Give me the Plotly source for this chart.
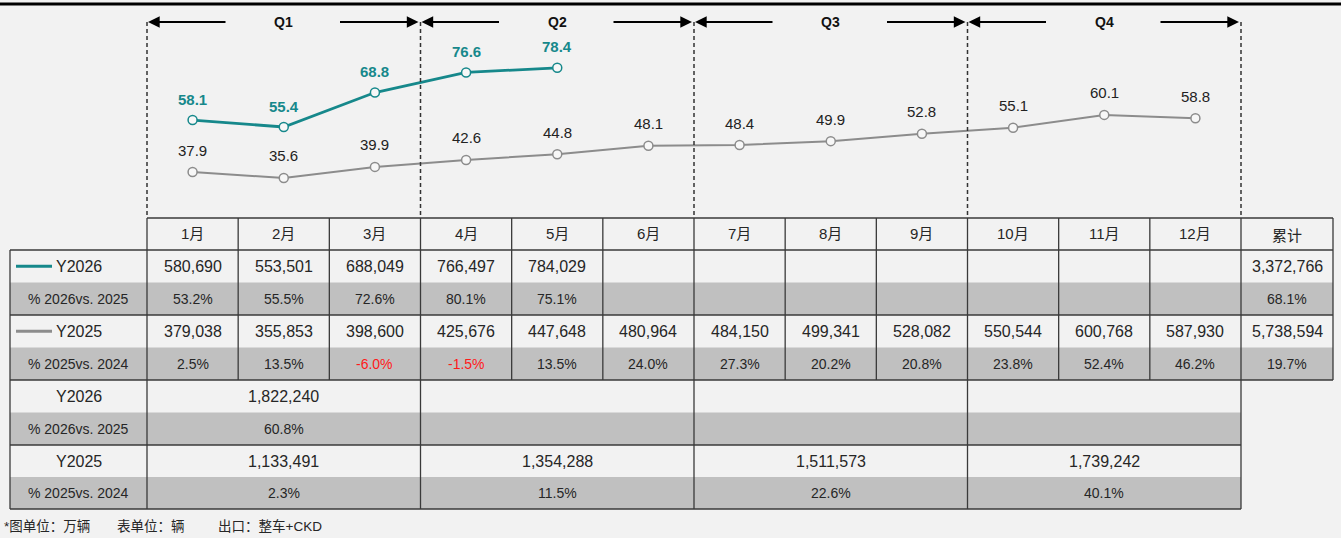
import plotly.graph_objects as go

# ---------------- data ----------------
months = ["1月", "2月", "3月", "4月", "5月", "6月", "7月", "8月", "9月", "10月", "11月", "12月"]
total_label = "累计"
line_2026 = [58.1, 55.4, 68.8, 76.6, 78.4]
line_2025 = [37.9, 35.6, 39.9, 42.6, 44.8, 48.1, 48.4, 49.9, 52.8, 55.1, 60.1, 58.8]

sales_2026 = [580690, 553501, 688049, 766497, 784029, None, None, None, None, None, None, None]
sales_2026_total = 3372766
yoy_2026 = [53.2, 55.5, 72.6, 80.1, 75.1, None, None, None, None, None, None, None]
yoy_2026_total = 68.1
sales_2025 = [379038, 355853, 398600, 425676, 447648, 480964, 484150, 499341, 528082, 550544, 600768, 587930]
sales_2025_total = 5738594
yoy_2025 = [2.5, 13.5, -6.0, -1.5, 13.5, 24.0, 27.3, 20.2, 20.8, 23.8, 52.4, 46.2]
yoy_2025_total = 19.7

quarters = ["Q1", "Q2", "Q3", "Q4"]
q_sales_2026 = [1822240, None, None, None]
q_yoy_2026 = [60.8, None, None, None]
q_sales_2025 = [1133491, 1354288, 1511573, 1739242]
q_yoy_2025 = [2.3, 11.5, 22.6, 40.1]

row_labels_upper = ["Y2026", "% 2026vs. 2025", "Y2025", "% 2025vs. 2024"]
row_labels_lower = ["Y2026", "% 2026vs. 2025", "Y2025", "% 2025vs. 2024"]
footnotes = ["*图单位：万辆", "表单位：辆", "出口：整车+CKD"]

# ---------------- layout constants ----------------
W, H = 1341, 538
X_LEFT, X0, X1, X_RIGHT = 10, 147, 1241, 1333
CW = (X1 - X0) / 12
HDR_TOP, HDR_BOT = 218, 250
ROWS_UP = [250, 282.5, 315, 347.5, 380]
ROWS_LO = [380, 412.5, 445, 477, 509]
PLOT_TOP = 15

TEAL = "#16888b"
GRAY = "#8c8c8c"
BORDER = "#3a3a3a"
SHADE = "#c0c0c0"
BG = "#f2f2f2"
TXT = "#262626"
FONT = "Liberation Sans, Arial, Noto Sans CJK SC, sans-serif"
PCT_SIZE = 14


def px(x):
    return x / W


def py(y):
    return 1 - y / H


def colx(i):  # left edge of month column i (0-based)
    return X0 + i * CW


shapes = []
annotations = []


def hline(x0, x1, y, color=BORDER, width=1.3):
    shapes.append(dict(type="line", xref="paper", yref="paper", x0=px(x0), x1=px(x1), y0=py(y), y1=py(y),
                       line=dict(color=color, width=width)))


def vline(x, y0, y1, color=BORDER, width=1.3, dash=None):
    ln = dict(color=color, width=width)
    if dash:
        ln["dash"] = dash
    shapes.append(dict(type="line", xref="paper", yref="paper", x0=px(x), x1=px(x), y0=py(y0), y1=py(y1), line=ln))


def rect(x0, x1, y0, y1, fill):
    shapes.append(dict(type="rect", xref="paper", yref="paper", x0=px(x0), x1=px(x1), y0=py(y0), y1=py(y1),
                       fillcolor=fill, line=dict(width=0), layer="below"))


def text(x, y, s, size=16, color=TXT, bold=False, xanchor="center"):
    if bold:
        s = "<b>" + s + "</b>"
    annotations.append(dict(xref="paper", yref="paper", x=px(x), y=py(y), text=s, showarrow=False,
                            xanchor=xanchor, yanchor="middle", font=dict(family=FONT, size=size, color=color)))


# top black rule
hline(0, W, 4, color="#000000", width=3)

# shaded rows
rect(X_LEFT, X_RIGHT, ROWS_UP[1], ROWS_UP[2], SHADE)
rect(X_LEFT, X_RIGHT, ROWS_UP[3], ROWS_UP[4], SHADE)
rect(X_LEFT, X1, ROWS_LO[1], ROWS_LO[2], SHADE)
rect(X_LEFT, X1, ROWS_LO[3], ROWS_LO[4], SHADE)

# horizontal borders
hline(X0, X_RIGHT, HDR_TOP)
hline(X_LEFT, X_RIGHT, HDR_BOT)
hline(X_LEFT, X_RIGHT, ROWS_UP[2])
hline(X_LEFT, X_RIGHT, ROWS_UP[4])
hline(X_LEFT, X1, ROWS_LO[2])
hline(X_LEFT, X1, ROWS_LO[4])

# vertical borders
vline(X_LEFT, HDR_BOT, ROWS_LO[4])
vline(X_RIGHT, HDR_TOP, ROWS_UP[4])
for i in range(13):
    x = colx(i)
    if i % 3 == 0:
        vline(x, HDR_TOP, ROWS_LO[4])
        vline(x, 22, HDR_TOP, color="#333333", width=1.5, dash="4px,3px")
    else:
        vline(x, HDR_TOP, ROWS_UP[4])

# quarter arrows + labels
for q, name in enumerate(quarters):
    a, b = colx(3 * q), colx(3 * q + 3)
    ya = py(22)
    annotations.append(dict(xref="paper", yref="paper", x=px(a + 1), y=ya, ax=79, ay=0, axref="pixel", ayref="pixel",
                            text="", showarrow=True, arrowhead=2, arrowsize=1.3, arrowwidth=1.8, arrowcolor="#000000"))
    annotations.append(dict(xref="paper", yref="paper", x=px(b - 2), y=ya, ax=-80, ay=0, axref="pixel", ayref="pixel",
                            text="", showarrow=True, arrowhead=2, arrowsize=1.3, arrowwidth=1.8, arrowcolor="#000000"))
    text((a + b) / 2, 22, name, size=14, color="#111111", bold=True)

# header row
for i, m in enumerate(months):
    text(colx(i) + CW / 2, (HDR_TOP + HDR_BOT) / 2, m, size=15)
text((X1 + X_RIGHT) / 2, (HDR_TOP + HDR_BOT) / 2 + 1, total_label, size=15)

# upper table row labels
cy = [(ROWS_UP[k] + ROWS_UP[k + 1]) / 2 for k in range(4)]
shapes.append(dict(type="line", xref="paper", yref="paper", x0=px(16), x1=px(52), y0=py(cy[0]), y1=py(cy[0]),
                   line=dict(color=TEAL, width=3)))
shapes.append(dict(type="line", xref="paper", yref="paper", x0=px(16), x1=px(52), y0=py(cy[2]), y1=py(cy[2]),
                   line=dict(color=GRAY, width=3)))
text(54, cy[0], row_labels_upper[0], size=16, xanchor="left")
text(54, cy[2], row_labels_upper[2], size=16, xanchor="left")
text((X_LEFT + X0) / 2, cy[1], row_labels_upper[1], size=PCT_SIZE)
text((X_LEFT + X0) / 2, cy[3], row_labels_upper[3], size=PCT_SIZE)


def fmt_int(v):
    return "" if v is None else f"{v:,}"


def fmt_pct(v):
    return "" if v is None else f"{v:.1f}%"


for i in range(12):
    cx = colx(i) + CW / 2
    if sales_2026[i] is not None:
        text(cx, cy[0], fmt_int(sales_2026[i]), size=16)
    if yoy_2026[i] is not None:
        text(cx, cy[1], fmt_pct(yoy_2026[i]), size=PCT_SIZE)
    text(cx, cy[2], fmt_int(sales_2025[i]), size=16)
    text(cx, cy[3], fmt_pct(yoy_2025[i]), size=PCT_SIZE, color="#ff1a1a" if yoy_2025[i] < 0 else TXT)

tx = (X1 + X_RIGHT) / 2
text(tx, cy[0], fmt_int(sales_2026_total), size=16)
text(tx, cy[1], fmt_pct(yoy_2026_total), size=PCT_SIZE)
text(tx, cy[2], fmt_int(sales_2025_total), size=16)
text(tx, cy[3], fmt_pct(yoy_2025_total), size=PCT_SIZE)

# lower (quarterly) table
cyl = [(ROWS_LO[k] + ROWS_LO[k + 1]) / 2 for k in range(4)]
for k in range(4):
    text((X_LEFT + X0) / 2, cyl[k], row_labels_lower[k], size=16 if k % 2 == 0 else PCT_SIZE)
for q in range(4):
    cx = (colx(3 * q) + colx(3 * q + 3)) / 2
    if q_sales_2026[q] is not None:
        text(cx, cyl[0], fmt_int(q_sales_2026[q]), size=16)
    if q_yoy_2026[q] is not None:
        text(cx, cyl[1], fmt_pct(q_yoy_2026[q]), size=PCT_SIZE)
    text(cx, cyl[2], fmt_int(q_sales_2025[q]), size=16)
    text(cx, cyl[3], fmt_pct(q_yoy_2025[q]), size=PCT_SIZE)

# footnotes
for x, s in zip([2, 115, 216], footnotes):
    text(x, 526, s, size=13.5, xanchor="left")

# ---------------- line chart ----------------
x26 = list(range(1, len(line_2026) + 1))
x25 = list(range(1, len(line_2025) + 1))

fig = go.Figure()
fig.add_trace(go.Scatter(x=x25, y=line_2025, mode="lines+markers",
                         line=dict(color=GRAY, width=2),
                         marker=dict(symbol="circle", size=9, color="#f7f7f7", line=dict(color=GRAY, width=1.5)),
                         hoverinfo="skip", showlegend=False))
fig.add_trace(go.Scatter(x=x26, y=line_2026, mode="lines+markers",
                         line=dict(color=TEAL, width=2.8),
                         marker=dict(symbol="circle", size=9, color="#f7f7f7", line=dict(color=TEAL, width=1.5)),
                         hoverinfo="skip", showlegend=False))

for xv, yv in zip(x25, line_2025):
    annotations.append(dict(xref="x", yref="y", x=xv, y=yv, text=f"{yv:.1f}", showarrow=False, yshift=22,
                            xanchor="center", yanchor="middle", font=dict(family=FONT, size=15, color="#222222")))
for xv, yv in zip(x26, line_2026):
    annotations.append(dict(xref="x", yref="y", x=xv, y=yv, text=f"<b>{yv:.1f}</b>", showarrow=False, yshift=21,
                            xanchor="center", yanchor="middle", font=dict(family=FONT, size=15, color=TEAL)))

# y scale: value -> pixel  (0 at ~269.6 px, 2.574 px per unit)
Y_ZERO_PX, PX_PER_UNIT = 269.6, 2.574
y_lo = (Y_ZERO_PX - HDR_TOP) / PX_PER_UNIT
y_hi = (Y_ZERO_PX - PLOT_TOP) / PX_PER_UNIT

fig.update_layout(
    width=W, height=H, margin=dict(l=0, r=0, t=0, b=0),
    paper_bgcolor=BG, plot_bgcolor="rgba(0,0,0,0)",
    xaxis=dict(domain=[px(X0), px(X1)], range=[0.5, 12.5], visible=False, fixedrange=True),
    yaxis=dict(domain=[py(HDR_TOP), py(PLOT_TOP)], range=[y_lo, y_hi], visible=False, fixedrange=True),
    shapes=shapes, annotations=annotations, showlegend=False,
    font=dict(family=FONT),
)

fig.write_html("out.html", config={"displayModeBar": False},
               post_script="document.body.style.margin='0';document.body.style.overflow='hidden';")
